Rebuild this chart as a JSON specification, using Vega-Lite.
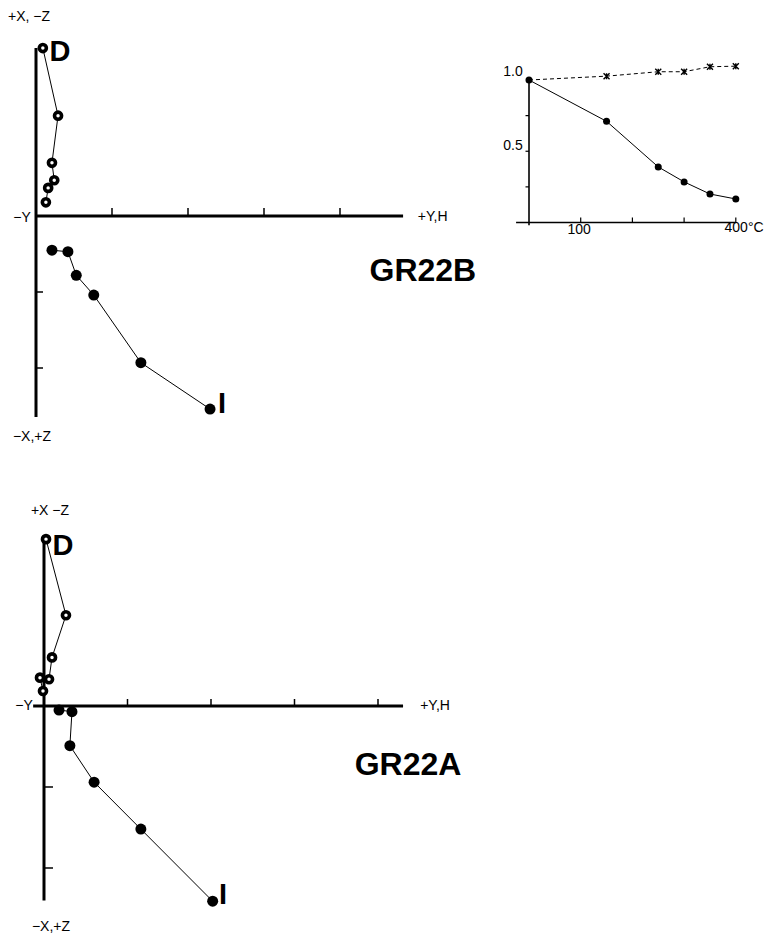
{
  "$schema": "https://vega.github.io/schema/vega-lite/v6.json",
  "width": 766,
  "height": 937,
  "autosize": {"type": "fit", "contains": "padding"},
  "padding": 0,
  "background": "white",
  "config": {"view": {"stroke": null}, "text": {"font": "Liberation Sans", "color": "black"}},
  "datasets": {
    "zB": [
      {"proj": "open", "step": 1, "h": 0.09, "v": 2.21},
      {"proj": "open", "step": 2, "h": 0.29, "v": 1.32},
      {"proj": "open", "step": 3, "h": 0.21, "v": 0.70},
      {"proj": "open", "step": 4, "h": 0.24, "v": 0.47},
      {"proj": "open", "step": 5, "h": 0.16, "v": 0.37},
      {"proj": "open", "step": 6, "h": 0.13, "v": 0.18},
      {"proj": "filled", "step": 1, "h": 2.29, "v": -2.54},
      {"proj": "filled", "step": 2, "h": 1.38, "v": -1.93},
      {"proj": "filled", "step": 3, "h": 0.76, "v": -1.04},
      {"proj": "filled", "step": 4, "h": 0.53, "v": -0.78},
      {"proj": "filled", "step": 5, "h": 0.42, "v": -0.47},
      {"proj": "filled", "step": 6, "h": 0.21, "v": -0.45}
    ],
    "axB": [
      {"h": 0, "v": -2.645, "h2": 0, "v2": 2.21},
      {"h": -0.013, "v": 0, "h2": 4.83, "v2": 0}
    ],
    "tkB": [
      {"dir": "up", "h": 1, "v": 0},
      {"dir": "up", "h": 2, "v": 0},
      {"dir": "up", "h": 3, "v": 0},
      {"dir": "up", "h": 4, "v": 0},
      {"dir": "right", "h": 0, "v": -1},
      {"dir": "right", "h": 0, "v": -2}
    ],
    "lbB": [
      {"role": "axis", "label": "+X, −Z", "h": -0.092, "v": 2.618},
      {"role": "axis", "label": "−Y", "h": -0.184, "v": -0.026},
      {"role": "axis", "label": "+Y,H", "h": 5.22, "v": -0.013},
      {"role": "axis", "label": "−X,+Z", "h": -0.053, "v": -2.91},
      {"role": "end", "label": "D", "h": 0.316, "v": 2.158},
      {"role": "end", "label": "I", "h": 2.447, "v": -2.474},
      {"role": "title", "label": "GR22B", "h": 5.09, "v": -0.724}
    ],
    "zA": [
      {"proj": "open", "step": 1, "h": 0.024, "v": 2.06},
      {"proj": "open", "step": 2, "h": 0.263, "v": 1.12},
      {"proj": "open", "step": 3, "h": 0.096, "v": 0.60},
      {"proj": "open", "step": 4, "h": 0.060, "v": 0.33},
      {"proj": "open", "step": 5, "h": -0.048, "v": 0.35},
      {"proj": "open", "step": 6, "h": -0.012, "v": 0.185},
      {"proj": "filled", "step": 1, "h": 2.02, "v": -2.41},
      {"proj": "filled", "step": 2, "h": 1.16, "v": -1.52},
      {"proj": "filled", "step": 3, "h": 0.60, "v": -0.94},
      {"proj": "filled", "step": 4, "h": 0.31, "v": -0.49},
      {"proj": "filled", "step": 5, "h": 0.335, "v": -0.07},
      {"proj": "filled", "step": 6, "h": 0.18, "v": -0.05}
    ],
    "axA": [
      {"h": 0, "v": -2.40, "h2": 0, "v2": 2.09},
      {"h": -0.13, "v": 0, "h2": 4.30, "v2": 0}
    ],
    "tkA": [
      {"dir": "up", "h": 1, "v": 0},
      {"dir": "up", "h": 2, "v": 0},
      {"dir": "up", "h": 3, "v": 0},
      {"dir": "up", "h": 4, "v": 0},
      {"dir": "right", "h": 0, "v": -1},
      {"dir": "right", "h": 0, "v": -2}
    ],
    "lbA": [
      {"role": "axis", "label": "+X −Z", "h": 0.072, "v": 2.407},
      {"role": "axis", "label": "−Y", "h": -0.24, "v": 0},
      {"role": "axis", "label": "+Y,H", "h": 4.683, "v": 0},
      {"role": "axis", "label": "−X,+Z", "h": 0.084, "v": -2.728},
      {"role": "end", "label": "D", "h": 0.228, "v": 1.975},
      {"role": "end", "label": "I", "h": 2.144, "v": -2.333},
      {"role": "title", "label": "GR22A", "h": 4.359, "v": -0.728}
    ],
    "dC": [
      {"s": "J", "h": 0, "v": 1.0},
      {"s": "J", "h": 150, "v": 0.71},
      {"s": "J", "h": 250, "v": 0.39},
      {"s": "J", "h": 300, "v": 0.285},
      {"s": "J", "h": 350, "v": 0.20},
      {"s": "J", "h": 400, "v": 0.165},
      {"s": "k", "h": 0, "v": 1.0},
      {"s": "k", "h": 150, "v": 1.027},
      {"s": "k", "h": 250, "v": 1.058},
      {"s": "k", "h": 300, "v": 1.058},
      {"s": "k", "h": 350, "v": 1.093},
      {"s": "k", "h": 400, "v": 1.097}
    ],
    "axC": [
      {"h": 0, "v": -0.02, "h2": 0, "v2": 1.01},
      {"h": -25, "v": 0, "h2": 400, "v2": 0}
    ],
    "tkC": [
      {"dir": "up", "h": 100, "v": 0},
      {"dir": "up", "h": 200, "v": 0},
      {"dir": "up", "h": 300, "v": 0},
      {"dir": "up", "h": 400, "v": 0},
      {"dir": "left", "h": 0, "v": 0.25},
      {"dir": "left", "h": 0, "v": 0.5},
      {"dir": "left", "h": 0, "v": 0.75}
    ],
    "lbC": [
      {"label": "1.0", "h": -31, "v": 1.053},
      {"label": "0.5", "h": -31, "v": 0.539},
      {"label": "100", "h": 97, "v": -0.053},
      {"label": "400°C", "h": 416, "v": -0.039}
    ]
  },
  "resolve": {"scale": {"x": "independent", "y": "independent"}},
  "layer": [
    {
      "encoding": {
        "x": {"field": "h", "type": "quantitative", "axis": null, "scale": {"domain": [-0.4737, 9.6053], "nice": false, "zero": false}},
        "y": {"field": "v", "type": "quantitative", "axis": null, "scale": {"domain": [-9.4868, 2.8421], "nice": false, "zero": false}}
      },
      "layer": [
        {"data": {"name": "axB"}, "mark": {"type": "rule", "strokeWidth": 3, "color": "black"}, "encoding": {"x2": {"field": "h2"}, "y2": {"field": "v2"}}},
        {"data": {"name": "tkB"}, "transform": [{"filter": "datum.dir == 'up'"}], "mark": {"type": "point", "shape": "M0,0L0,-1", "size": 256, "strokeWidth": 1.5, "color": "black", "filled": false, "opacity": 1}},
        {"data": {"name": "tkB"}, "transform": [{"filter": "datum.dir == 'right'"}], "mark": {"type": "point", "shape": "M0,0L1,0", "size": 196, "strokeWidth": 1.5, "color": "black", "filled": false, "opacity": 1}},
        {"data": {"name": "zB"}, "mark": {"type": "line", "strokeWidth": 1, "color": "black"}, "encoding": {"detail": {"field": "proj"}, "order": {"field": "step"}}},
        {"data": {"name": "zB"}, "transform": [{"filter": "datum.proj == 'open'"}], "mark": {"type": "point", "shape": "circle", "size": 50, "strokeWidth": 3.6, "color": "black", "filled": false, "fill": "white", "opacity": 1}},
        {"data": {"name": "zB"}, "transform": [{"filter": "datum.proj == 'filled'"}], "mark": {"type": "point", "shape": "circle", "size": 121, "color": "black", "filled": true, "opacity": 1}},
        {"data": {"name": "lbB"}, "transform": [{"filter": "datum.role == 'axis'"}], "mark": {"type": "text", "fontSize": 14, "align": "center", "baseline": "middle"}, "encoding": {"text": {"field": "label"}}},
        {"data": {"name": "lbB"}, "transform": [{"filter": "datum.role == 'end'"}], "mark": {"type": "text", "fontSize": 29, "fontWeight": "bold", "align": "center", "baseline": "middle"}, "encoding": {"text": {"field": "label"}}},
        {"data": {"name": "lbB"}, "transform": [{"filter": "datum.role == 'title'"}], "mark": {"type": "text", "fontSize": 32, "fontWeight": "bold", "align": "center", "baseline": "middle"}, "encoding": {"text": {"field": "label"}}}
      ]
    },
    {
      "encoding": {
        "x": {"field": "h", "type": "quantitative", "axis": null, "scale": {"domain": [-0.5269, 8.6467], "nice": false, "zero": false}},
        "y": {"field": "v", "type": "quantitative", "axis": null, "scale": {"domain": [-2.8519, 8.716], "nice": false, "zero": false}}
      },
      "layer": [
        {"data": {"name": "axA"}, "mark": {"type": "rule", "strokeWidth": 3, "color": "black"}, "encoding": {"x2": {"field": "h2"}, "y2": {"field": "v2"}}},
        {"data": {"name": "tkA"}, "transform": [{"filter": "datum.dir == 'up'"}], "mark": {"type": "point", "shape": "M0,0L0,-1", "size": 196, "strokeWidth": 1.5, "color": "black", "filled": false, "opacity": 1}},
        {"data": {"name": "tkA"}, "transform": [{"filter": "datum.dir == 'right'"}], "mark": {"type": "point", "shape": "M0,0L1,0", "size": 324, "strokeWidth": 1.5, "color": "black", "filled": false, "opacity": 1}},
        {"data": {"name": "zA"}, "mark": {"type": "line", "strokeWidth": 1, "color": "black"}, "encoding": {"detail": {"field": "proj"}, "order": {"field": "step"}}},
        {"data": {"name": "zA"}, "transform": [{"filter": "datum.proj == 'open'"}], "mark": {"type": "point", "shape": "circle", "size": 50, "strokeWidth": 3.6, "color": "black", "filled": false, "fill": "white", "opacity": 1}},
        {"data": {"name": "zA"}, "transform": [{"filter": "datum.proj == 'filled'"}], "mark": {"type": "point", "shape": "circle", "size": 121, "color": "black", "filled": true, "opacity": 1}},
        {"data": {"name": "lbA"}, "transform": [{"filter": "datum.role == 'axis'"}], "mark": {"type": "text", "fontSize": 14, "align": "center", "baseline": "middle"}, "encoding": {"text": {"field": "label"}}},
        {"data": {"name": "lbA"}, "transform": [{"filter": "datum.role == 'end'"}], "mark": {"type": "text", "fontSize": 29, "fontWeight": "bold", "align": "center", "baseline": "middle"}, "encoding": {"text": {"field": "label"}}},
        {"data": {"name": "lbA"}, "transform": [{"filter": "datum.role == 'title'"}], "mark": {"type": "text", "fontSize": 32, "fontWeight": "bold", "align": "center", "baseline": "middle"}, "encoding": {"text": {"field": "label"}}}
      ]
    },
    {
      "encoding": {
        "x": {"field": "h", "type": "quantitative", "axis": null, "scale": {"domain": [-1023.2, 458.4], "nice": false, "zero": false}},
        "y": {"field": "v", "type": "quantitative", "axis": null, "scale": {"domain": [-5.014, 1.5614], "nice": false, "zero": false}}
      },
      "layer": [
        {"data": {"name": "axC"}, "mark": {"type": "rule", "strokeWidth": 1.6, "color": "black"}, "encoding": {"x2": {"field": "h2"}, "y2": {"field": "v2"}}},
        {"data": {"name": "tkC"}, "transform": [{"filter": "datum.dir == 'up'"}], "mark": {"type": "point", "shape": "M0,0L0,-1", "size": 100, "strokeWidth": 1.2, "color": "black", "filled": false, "opacity": 1}},
        {"data": {"name": "tkC"}, "transform": [{"filter": "datum.dir == 'left'"}], "mark": {"type": "point", "shape": "M0,0L-1,0", "size": 49, "strokeWidth": 1.2, "color": "black", "filled": false, "opacity": 1}},
        {"data": {"name": "dC"}, "transform": [{"filter": "datum.s == 'J'"}], "mark": {"type": "line", "strokeWidth": 1, "color": "black"}},
        {"data": {"name": "dC"}, "transform": [{"filter": "datum.s == 'k'"}], "mark": {"type": "line", "strokeWidth": 1, "color": "black", "strokeDash": [4, 3]}},
        {"data": {"name": "dC"}, "transform": [{"filter": "datum.s == 'k' && datum.h > 0"}], "mark": {"type": "point", "shape": "M-1,-1L1,1M-1,1L1,-1M0,-1L0,1", "size": 36, "strokeWidth": 1.4, "color": "black", "filled": false, "opacity": 1}},
        {"data": {"name": "dC"}, "transform": [{"filter": "datum.s == 'J'"}], "mark": {"type": "point", "shape": "circle", "size": 49, "color": "black", "filled": true, "opacity": 1}},
        {"data": {"name": "lbC"}, "mark": {"type": "text", "fontSize": 14, "align": "center", "baseline": "middle"}, "encoding": {"text": {"field": "label"}}}
      ]
    }
  ]
}
